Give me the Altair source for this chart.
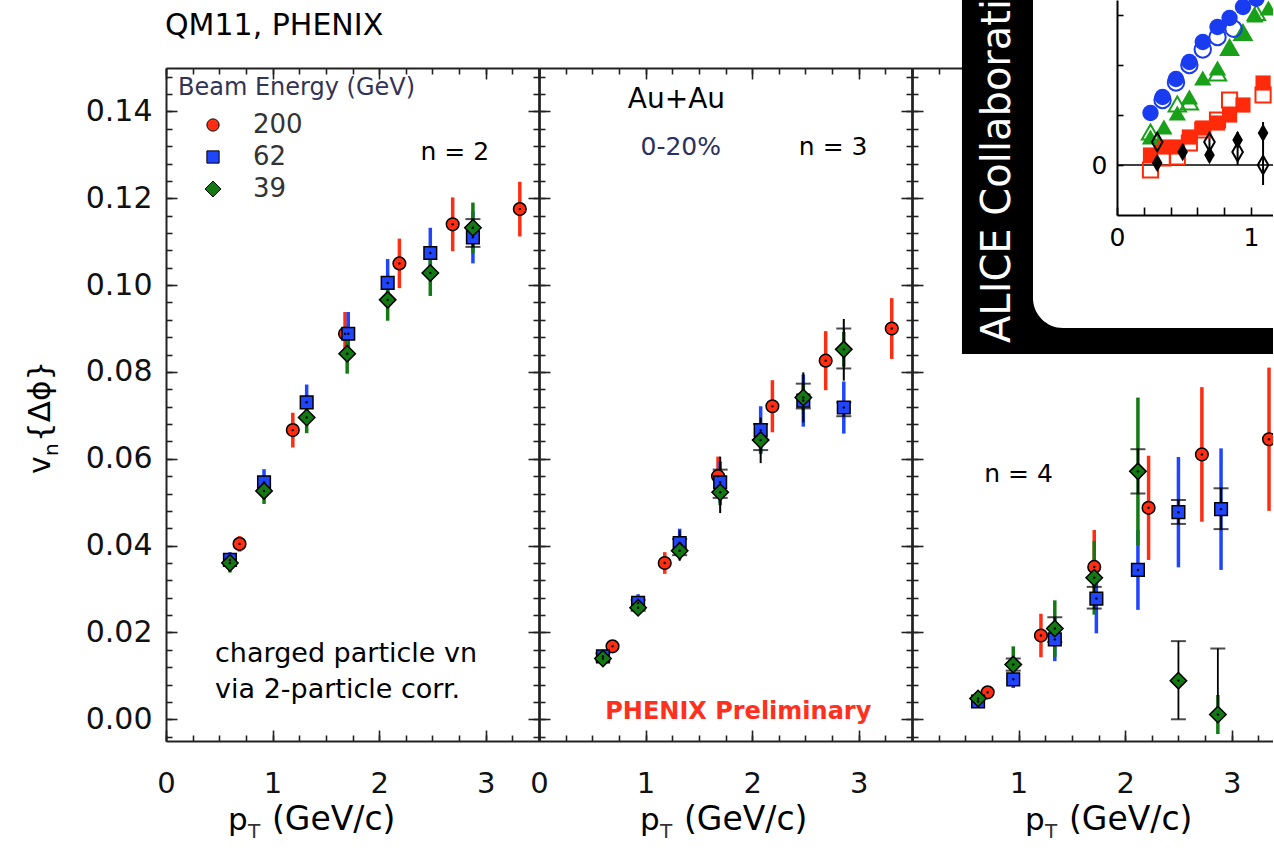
import altair as alt
import pandas as pd

# ---------------- series definitions ----------------
energies = ["200", "62", "39"]
energy_colors = ["#ff2d12", "#1f45ff", "#137a13"]
energy_shapes = ["circle", "square", "M0,-1.3L1.3,0L0,1.3L-1.3,0Z"]

# n = 2
n2_pt_200 = [0.69, 1.19, 1.68, 2.19, 2.69, 3.32]
n2_v_200 = [0.0404, 0.0666, 0.0888, 0.1050, 0.1140, 0.1175]
n2_e_200 = [0.0018, 0.0040, 0.0050, 0.0057, 0.0062, 0.0063]
n2_pt_62 = [0.60, 0.92, 1.32, 1.71, 2.08, 2.48, 2.88]
n2_v_62 = [0.0367, 0.0546, 0.0730, 0.0888, 0.1005, 0.1074, 0.1110]
n2_e_62 = [0.0018, 0.0030, 0.0041, 0.0050, 0.0055, 0.0058, 0.0060]
n2_pt_39 = [0.60, 0.92, 1.32, 1.70, 2.08, 2.48, 2.88]
n2_v_39 = [0.0360, 0.0526, 0.0695, 0.0842, 0.0966, 0.1028, 0.1132]
n2_e_39 = [0.0022, 0.0030, 0.0036, 0.0046, 0.0048, 0.0053, 0.0058]
n2_sys_pt = [2.88]
n2_sys_lo = [0.1088]
n2_sys_hi = [0.1152]
n2_stat_pt = []
n2_stat_lo = []
n2_stat_hi = []

# n = 3
n3_pt_200 = [0.69, 1.18, 1.68, 2.19, 2.69, 3.31]
n3_v_200 = [0.0168, 0.0360, 0.0560, 0.0721, 0.0826, 0.0900]
n3_e_200 = [0.0012, 0.0025, 0.0045, 0.0060, 0.0068, 0.0070]
n3_pt_62 = [0.60, 0.93, 1.32, 1.70, 2.08, 2.48, 2.86]
n3_v_62 = [0.0145, 0.0268, 0.0406, 0.0546, 0.0666, 0.0734, 0.0718]
n3_e_62 = [0.0010, 0.0020, 0.0033, 0.0048, 0.0055, 0.0060, 0.0060]
n3_pt_39 = [0.60, 0.93, 1.32, 1.70, 2.08, 2.48, 2.86]
n3_v_39 = [0.0140, 0.0257, 0.0388, 0.0523, 0.0643, 0.0741, 0.0852]
n3_e_39 = [0.0010, 0.0015, 0.0020, 0.0030, 0.0030, 0.0030, 0.0040]
n3_sys_pt = [0.60, 0.93, 1.32, 1.70, 2.08, 2.48, 2.86, 2.86]
n3_sys_lo = [0.0135, 0.0250, 0.0378, 0.0510, 0.0620, 0.0716, 0.0808, 0.0698]
n3_sys_hi = [0.0152, 0.0275, 0.0415, 0.0575, 0.0680, 0.0773, 0.0900, 0.0730]
n3_stat_pt = [1.32, 1.70, 2.08, 2.48, 2.86]
n3_stat_lo = [0.0365, 0.0475, 0.0590, 0.0684, 0.0780]
n3_stat_hi = [0.0435, 0.0605, 0.0695, 0.0799, 0.0922]

# n = 4
n4_pt_200 = [0.71, 1.21, 1.71, 2.22, 2.72, 3.35]
n4_v_200 = [0.0062, 0.0193, 0.0351, 0.0487, 0.0610, 0.0645]
n4_e_200 = [0.0012, 0.0050, 0.0085, 0.0120, 0.0155, 0.0165]
n4_pt_62 = [0.62, 0.95, 1.34, 1.73, 2.12, 2.50, 2.90]
n4_v_62 = [0.0041, 0.0092, 0.0184, 0.0278, 0.0344, 0.0477, 0.0484]
n4_e_62 = [0.0008, 0.0020, 0.0050, 0.0080, 0.0092, 0.0127, 0.0140]
n4_pt_39 = [0.62, 0.95, 1.34, 1.71, 2.12, 2.50, 2.87]
n4_v_39 = [0.0048, 0.0126, 0.0209, 0.0326, 0.0571, 0.0089, 0.0011]
n4_e_39 = [0.0008, 0.0042, 0.0065, 0.0085, 0.0170, 0.0000, 0.0045]
n4_sys_pt = [0.95, 1.34, 1.71, 2.12, 2.50, 2.90, 2.50, 2.87]
n4_sys_lo = [0.0112, 0.0178, 0.0255, 0.0520, 0.0450, 0.0438, 0.0000, 0.0011]
n4_sys_hi = [0.0140, 0.0235, 0.0305, 0.0622, 0.0505, 0.0532, 0.0180, 0.0163]
n4_stat_pt = []
n4_stat_lo = []
n4_stat_hi = []

# ALICE inset (Pb+Pb)
alice_pt_circ = [0.25, 0.34, 0.44, 0.54, 0.64, 0.75, 0.84, 0.94, 1.04]
alice_v_circ = [0.0208, 0.0272, 0.0344, 0.0412, 0.0492, 0.0552, 0.0588, 0.0632, 0.0665]
alice_pt_ocirc = [0.34, 0.44, 0.54, 0.64, 0.75, 0.87]
alice_v_ocirc = [0.0260, 0.0330, 0.0400, 0.0462, 0.0512, 0.0545]
alice_pt_tri = [0.25, 0.35, 0.45, 0.54, 0.64, 0.75, 0.84, 0.94, 1.03, 1.13]
alice_v_tri = [0.0112, 0.0152, 0.0208, 0.0272, 0.0348, 0.0388, 0.0468, 0.0532, 0.0600, 0.0628]
alice_pt_otri = [0.25, 0.45, 0.54, 0.75, 0.84, 0.94, 1.04]
alice_v_otri = [0.0132, 0.0244, 0.0252, 0.0368, 0.0470, 0.0530, 0.0610]
alice_pt_sq = [0.25, 0.34, 0.45, 0.54, 0.64, 0.75, 0.84, 0.94, 1.09]
alice_v_sq = [0.0040, 0.0072, 0.0072, 0.0112, 0.0148, 0.0168, 0.0200, 0.0240, 0.0328]
alice_pt_osq = [0.25, 0.34, 0.45, 0.54, 0.64, 0.75, 0.84, 1.09]
alice_v_osq = [-0.0020, 0.0028, 0.0032, 0.0088, 0.0140, 0.0180, 0.0260, 0.0280]
alice_pt_dia = [0.30, 0.49, 0.69, 0.90, 1.09]
alice_v_dia = [0.0008, 0.0052, 0.0040, 0.0100, 0.0128]
alice_pt_odia = [0.30, 0.69, 0.90, 1.09]
alice_v_odia = [0.0092, 0.0092, 0.0052, 0.0000]
alice_bar_pt = [0.69, 0.90, 1.09]
alice_bar_lo = [0.0060, 0.0000, -0.0080]
alice_bar_hi = [0.0128, 0.0132, 0.0172]

# axis ticks
x_major = [0, 1, 2, 3]
x_minor = [k * 0.25 for k in range(15)]
y_major = [0.0, 0.02, 0.04, 0.06, 0.08, 0.10, 0.12, 0.14]
y_minor = [round(-0.004 + k * 0.004, 3) for k in range(39)]

# ---------------- geometry ----------------
W = [373, 373, 361]
PX = 373 / 3.5
H = 741
TOP = 68
YDOM = [-0.005, 0.15]
MAJ, MIN = 11, 6
FONT = "DejaVu Sans"


def xs(i):
    return alt.Scale(domain=[0, W[i] / PX], range=[0, W[i]], nice=False, zero=False)


def ys():
    return alt.Scale(domain=YDOM, range=[H, TOP], nice=False, zero=False)


def series(pt, val, err, energy):
    k = energies.index(energy)
    return pd.DataFrame({
        "pt": pt, "v": val,
        "lo": [a - e for a, e in zip(val, err)],
        "hi": [a + e for a, e in zip(val, err)],
        "E": energy, "col": energy_colors[k],
    })


def bars_frame(pt, lo, hi):
    return pd.DataFrame({"pt": pt, "lo": lo, "hi": hi})


anchor = pd.DataFrame({"pt": [1.0], "v": [0.05]})

base_axis = dict(grid=False, title=None, tickColor="#222", tickWidth=1.6,
                 labelFont=FONT, labelColor="#111", labelFlush=False,
                 labelOverlap=False)


def ax(**kw):
    d = dict(base_axis)
    d.update(kw)
    return alt.Axis(**d)


def axis_layer(i, xaxis, yaxis):
    return alt.Chart(anchor).mark_point(opacity=0).encode(
        x=alt.X("pt:Q", scale=xs(i), axis=xaxis),
        y=alt.Y("v:Q", scale=ys(), axis=yaxis),
    )


def frame_layers(i):
    xlab = [1, 2, 3] if i == 2 else x_major
    right = i != 2
    return [
        axis_layer(i,
                   ax(orient="bottom", values=xlab, tickSize=MAJ, offset=-MAJ, domain=False,
                      labelFontSize=29, labelPadding=28, format="d"),
                   ax(orient="left", values=y_major, tickSize=MAJ, offset=-MAJ, domain=False,
                      labels=(i == 0), labelFontSize=30, labelPadding=14, format=".2f")),
        axis_layer(i,
                   ax(orient="bottom", values=x_minor, tickSize=MIN, offset=-MIN, domain=False, labels=False),
                   ax(orient="left", values=y_minor, tickSize=MIN, offset=-MIN, domain=False, labels=False)),
        axis_layer(i,
                   ax(orient="bottom", domain=True, ticks=False, labels=False, domainColor="#222", domainWidth=2),
                   ax(orient="left", domain=True, ticks=False, labels=False, domainColor="#222", domainWidth=2)),
        axis_layer(i,
                   ax(orient="top", values=x_major, tickSize=MAJ, offset=-(TOP + MAJ), domain=False, labels=False),
                   ax(orient="right", values=y_major, tickSize=MAJ, offset=-MAJ, domain=False, labels=False) if right else None),
        axis_layer(i,
                   ax(orient="top", values=x_minor, tickSize=MIN, offset=-(TOP + MIN), domain=False, labels=False),
                   ax(orient="right", values=y_minor, tickSize=MIN, offset=-MIN, domain=False, labels=False) if right else None),
        axis_layer(i,
                   ax(orient="top", offset=-TOP, domain=True, ticks=False, labels=False, domainColor="#222", domainWidth=2),
                   ax(orient="right", domain=True, ticks=False, labels=False, domainColor="#222", domainWidth=2.5) if right else None),
    ]


def data_layers(i, pts, sys_df, stat_df, legend):
    clip = i == 2
    X = alt.X("pt:Q", scale=xs(i), axis=None)
    layers = [
        alt.Chart(pts).mark_rule(strokeWidth=3.5, clip=clip).encode(
            x=X, y=alt.Y("lo:Q", scale=ys(), axis=None), y2="hi:Q",
            color=alt.Color("col:N", scale=None)),
    ]
    if len(stat_df):
        layers.append(alt.Chart(stat_df).mark_rule(strokeWidth=2, color="black").encode(
            x=X, y=alt.Y("lo:Q", scale=ys(), axis=None), y2="hi:Q"))
    if len(sys_df):
        caps = pd.concat([sys_df[["pt", "lo"]].rename(columns={"lo": "v"}),
                          sys_df[["pt", "hi"]].rename(columns={"hi": "v"})])
        layers.append(alt.Chart(sys_df).mark_rule(strokeWidth=1.8, color="black").encode(
            x=X, y=alt.Y("lo:Q", scale=ys(), axis=None), y2="hi:Q"))
        layers.append(alt.Chart(caps).mark_tick(orient="horizontal", size=15, thickness=2, color="black").encode(
            x=X, y=alt.Y("v:Q", scale=ys(), axis=None)))
    layers.append(alt.Chart(pts).mark_point(filled=True, opacity=1, size=160, stroke="black",
                                            strokeWidth=1.5, clip=clip).encode(
        x=X, y=alt.Y("v:Q", scale=ys(), axis=None),
        color=alt.Color("E:N", scale=alt.Scale(domain=energies, range=energy_colors), legend=legend),
        shape=alt.Shape("E:N", scale=alt.Scale(domain=energies, range=energy_shapes), legend=legend),
    ))
    layers.append(alt.Chart(pts).mark_point(filled=True, opacity=1, size=6, color="black", clip=clip).encode(
        x=X, y=alt.Y("v:Q", scale=ys(), axis=None)))
    return layers


def text_layer(i, pt, v, label, size, color="black", weight="normal", align="center",
               baseline="middle"):
    df = pd.DataFrame({"pt": pt, "v": v, "t": label})
    return alt.Chart(df).mark_text(font=FONT, fontSize=size, color=color, fontWeight=weight,
                                   align=align, baseline=baseline).encode(
        x=alt.X("pt:Q", scale=xs(i), axis=None),
        y=alt.Y("v:Q", scale=ys(), axis=None),
        text="t:N")


def pt_title(i, left):
    # p with subscript T, then the unit
    one = pd.DataFrame({"t": ["p"]})
    return [
        alt.Chart(one).mark_text(font=FONT, fontSize=31, align="left", baseline="alphabetic").encode(
            x=alt.value(left), y=alt.value(830), text=alt.value("p")),
        alt.Chart(one).mark_text(font=FONT, fontSize=20, align="left", baseline="alphabetic",
                                 color="#333").encode(
            x=alt.value(left + 20), y=alt.value(838), text=alt.value("T")),
        alt.Chart(one).mark_text(font=FONT, fontSize=33, align="left", baseline="alphabetic").encode(
            x=alt.value(left + 44), y=alt.value(830), text=alt.value("(GeV/c)")),
    ]


def panel(i, layers):
    return alt.layer(*layers).resolve_scale(x="independent", y="independent").resolve_axis(
        x="independent", y="independent").properties(width=W[i], height=H)


# ---------------- panel 1 : n = 2 ----------------
pts2 = pd.concat([series(n2_pt_200, n2_v_200, n2_e_200, "200"),
                  series(n2_pt_62, n2_v_62, n2_e_62, "62"),
                  series(n2_pt_39, n2_v_39, n2_e_39, "39")])
legend = alt.Legend(title="Beam Energy (GeV)", orient="none", legendX=12, legendY=76,
                    titleFont=FONT, titleFontSize=24, titleFontWeight="normal", titleColor="#333355",
                    titleLimit=500, labelFont=FONT, labelFontSize=26, labelColor="#333",
                    symbolOffset=22, labelOffset=27, rowPadding=6, titlePadding=12,
                    symbolStrokeColor="black", symbolStrokeWidth=1, symbolSize=150, padding=0)
one = pd.DataFrame({"t": ["x"]})
p1_layers = frame_layers(0) + data_layers(0, pts2, bars_frame(n2_sys_pt, n2_sys_lo, n2_sys_hi),
                                          bars_frame(n2_stat_pt, n2_stat_lo, n2_stat_hi), legend)
p1_layers += [
    text_layer(0, [2.71], [0.1307], ["n = 2"], 25),
    text_layer(0, [0.46, 0.46], [0.0132, 0.0049], ["charged particle vn", "via 2-particle corr."], 27,
               align="left", baseline="alphabetic"),
    alt.Chart(one).mark_text(font=FONT, fontSize=30, align="left", baseline="middle").encode(
        x=alt.value(-1), y=alt.value(26), text=alt.value("QM11, PHENIX")),
    # y-axis title: v_n{Δϕ}
    alt.Chart(one).mark_text(font=FONT, fontSize=30, align="left", baseline="alphabetic", angle=270).encode(
        x=alt.value(-116), y=alt.value(474), text=alt.value("v")),
    alt.Chart(one).mark_text(font=FONT, fontSize=20, align="left", baseline="alphabetic", angle=270).encode(
        x=alt.value(-108), y=alt.value(456), text=alt.value("n")),
    alt.Chart(one).mark_text(font=FONT, fontSize=31, align="left", baseline="alphabetic", angle=270).encode(
        x=alt.value(-116), y=alt.value(442), text=alt.value("{Δϕ}")),
] + pt_title(0, 62)
p1 = panel(0, p1_layers)

# ---------------- panel 2 : n = 3 ----------------
pts3 = pd.concat([series(n3_pt_200, n3_v_200, n3_e_200, "200"),
                  series(n3_pt_62, n3_v_62, n3_e_62, "62"),
                  series(n3_pt_39, n3_v_39, n3_e_39, "39")])
p2_layers = frame_layers(1) + data_layers(1, pts3, bars_frame(n3_sys_pt, n3_sys_lo, n3_sys_hi),
                                          bars_frame(n3_stat_pt, n3_stat_lo, n3_stat_hi), None)
p2_layers += [
    text_layer(1, [1.29], [0.1426], ["Au+Au"], 28),
    text_layer(1, [1.33], [0.1318], ["0-20%"], 25, color="#2b3060"),
    text_layer(1, [2.76], [0.1318], ["n = 3"], 25),
    text_layer(1, [1.87], [0.0017], ["PHENIX Preliminary"], 24, color="#ff3020", weight="bold"),
] + pt_title(1, 101)
p2 = panel(1, p2_layers)

# ---------------- panel 3 : n = 4 with ALICE inset ----------------
pts4 = pd.concat([series(n4_pt_200, n4_v_200, n4_e_200, "200"),
                  series(n4_pt_62, n4_v_62, n4_e_62, "62"),
                  series(n4_pt_39, n4_v_39, n4_e_39, "39")])
p3_layers = frame_layers(2) + data_layers(2, pts4, bars_frame(n4_sys_pt, n4_sys_lo, n4_sys_hi),
                                          bars_frame(n4_stat_pt, n4_stat_lo, n4_stat_hi), None)
p3_layers += [text_layer(2, [1.0], [0.0565], ["n = 4"], 25)] + pt_title(2, 113)

# inset scales (pixel ranges inside the third panel)
IX0, IPX = 205, 134
ixs = alt.Scale(domain=[0, (W[2] - IX0) / IPX], range=[IX0, W[2]], nice=False, zero=False)
iys = alt.Scale(domain=[-0.02, 0.066], range=[215, 0], nice=False, zero=False)
IX = lambda f: alt.X(f, scale=ixs, axis=None)
IY = lambda f: alt.Y(f, scale=iys, axis=None)

outer = pd.DataFrame({"a": [-1.157], "a2": [1.5], "b": [-0.0756], "b2": [0.09]})
inner = pd.DataFrame({"a": [-0.627], "a2": [1.5], "b": [-0.0652], "b2": [0.09]})
zero_line = pd.DataFrame({"a": [0.0], "a2": [1.5], "b": [0.0]})
ianchor = pd.DataFrame({"a": [0.5], "b": [0.02]})


def ipts(pt, v):
    return pd.DataFrame({"a": pt, "b": v})


def iax(**kw):
    d = dict(grid=False, title=None, tickColor="black", tickWidth=1.6, labelFont=FONT,
             labelColor="black", labelFontSize=25, zindex=1, labelFlush=False, labelOverlap=False)
    d.update(kw)
    return alt.Axis(**d)


DIA = "M0,-1.3L0.75,0L0,1.3L-0.75,0Z"
zero_expr = "datum.value == 0 ? '0' : ''"
inset = [
    alt.Chart(outer).mark_rect(color="black", clip=True).encode(
        x=IX("a:Q"), x2="a2:Q", y=IY("b:Q"), y2="b2:Q"),
    alt.Chart(inner).mark_rect(color="white", cornerRadiusBottomLeft=30, clip=True).encode(
        x=IX("a:Q"), x2="a2:Q", y=IY("b:Q"), y2="b2:Q"),
    alt.Chart(one).mark_text(font=FONT, fontSize=40, color="white", align="left", baseline="middle",
                             angle=270, clip=True).encode(
        x=alt.value(86), y=alt.value(343), text=alt.value("ALICE Collaboration")),
    alt.Chart(zero_line).mark_rule(color="black", strokeWidth=1.5, clip=True).encode(
        x=IX("a:Q"), x2="a2:Q", y=IY("b:Q")),
    alt.Chart(ianchor).mark_point(opacity=0).encode(
        x=alt.X("a:Q", scale=ixs, axis=iax(orient="bottom", offset=215 - H - 8, tickSize=8,
                                             values=[0, 0.2, 0.4, 0.6, 0.8, 1.0], domain=False,
                                             labelPadding=10,
                                             labelExpr="datum.value == 0 ? '0' : (datum.value == 1 ? '1' : '')")),
        y=alt.Y("b:Q", scale=iys, axis=iax(orient="left", offset=-(IX0 + 6), tickSize=6,
                                             values=[0, 0.02, 0.04, 0.06], domain=False,
                                             labelPadding=10, labelExpr=zero_expr))),
    alt.Chart(ianchor).mark_point(opacity=0).encode(
        x=alt.X("a:Q", scale=ixs, axis=iax(orient="bottom", offset=215 - H, ticks=False, labels=False,
                                             domain=True, domainColor="black", domainWidth=2)),
        y=alt.Y("b:Q", scale=iys, axis=iax(orient="left", offset=-IX0, ticks=False, labels=False,
                                             domain=True, domainColor="black", domainWidth=2))),
    alt.Chart(bars_frame(alice_bar_pt, alice_bar_lo, alice_bar_hi).rename(columns={"pt": "a"})).mark_rule(
        color="black", strokeWidth=2, clip=True).encode(x=IX("a:Q"), y=IY("lo:Q"), y2="hi:Q"),
    alt.Chart(ipts(alice_pt_osq, alice_v_osq)).mark_point(shape="square", filled=False, color="#ff2a0a",
                                                          strokeWidth=2, size=230, opacity=1, clip=True).encode(
        x=IX("a:Q"), y=IY("b:Q")),
    alt.Chart(ipts(alice_pt_sq, alice_v_sq)).mark_point(shape="square", filled=True, color="#ff2a0a",
                                                        size=230, opacity=1, clip=True).encode(
        x=IX("a:Q"), y=IY("b:Q")),
    alt.Chart(ipts(alice_pt_otri, alice_v_otri)).mark_point(shape="triangle-up", filled=False, color="#18a018",
                                                            strokeWidth=2, size=300, opacity=1, clip=True).encode(
        x=IX("a:Q"), y=IY("b:Q")),
    alt.Chart(ipts(alice_pt_tri, alice_v_tri)).mark_point(shape="triangle-up", filled=True, color="#18a018",
                                                          size=300, opacity=1, clip=True).encode(
        x=IX("a:Q"), y=IY("b:Q")),
    alt.Chart(ipts(alice_pt_ocirc, alice_v_ocirc)).mark_point(shape="circle", filled=False, color="#1a3cf0",
                                                              strokeWidth=2, size=270, opacity=1, clip=True).encode(
        x=IX("a:Q"), y=IY("b:Q")),
    alt.Chart(ipts(alice_pt_circ, alice_v_circ)).mark_point(shape="circle", filled=True, color="#1a3cf0",
                                                            size=270, opacity=1, clip=True).encode(
        x=IX("a:Q"), y=IY("b:Q")),
    alt.Chart(ipts(alice_pt_odia, alice_v_odia)).mark_point(shape=DIA, filled=False, color="black",
                                                            strokeWidth=2, size=200, opacity=1,
                                                            clip=True).encode(
        x=IX("a:Q"), y=IY("b:Q")),
    alt.Chart(ipts(alice_pt_dia, alice_v_dia)).mark_point(shape=DIA, filled=True, color="black", size=200,
                                                          opacity=1, clip=True).encode(
        x=IX("a:Q"), y=IY("b:Q")),
]
p3 = panel(2, p3_layers + inset)

chart = alt.hconcat(p1, p2, p3, spacing=0, bounds="flush").resolve_scale(
    color="independent", shape="independent"
).properties(
    padding={"left": 25, "top": 0, "right": 0, "bottom": 0},
    background="white",
).configure_view(stroke=None)

chart.save("out.html", embed_options={"renderer": "svg", "actions": False})
